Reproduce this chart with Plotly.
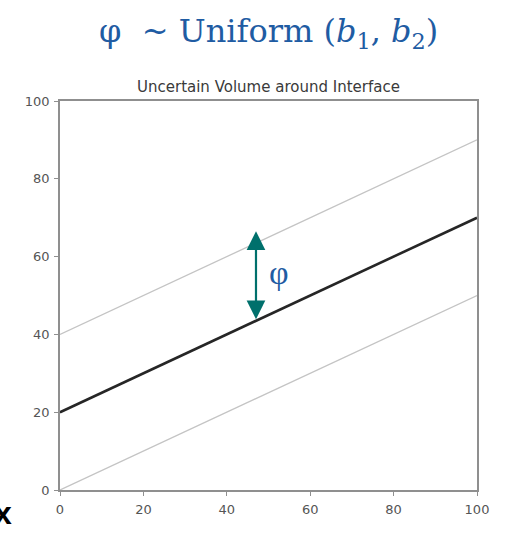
import plotly.graph_objects as go

# data
x_vals = [0, 100]
center_line = [20, 70]
upper_line = [40, 90]
lower_line = [0, 50]
tick_vals = [0, 20, 40, 60, 80, 100]
phi_x = 47
phi_low = 43.5
phi_high = 66.5
phi_label_x = 52.5
phi_label_y = 56

BLUE = "#1f5ca3"
TEAL = "#00706c"

fig = go.Figure()
for yv, col, w in [(upper_line, "#c4c4c4", 1.3), (lower_line, "#c4c4c4", 1.3), (center_line, "#262626", 2.6)]:
    fig.add_trace(go.Scatter(x=x_vals, y=yv, mode="lines",
                             line=dict(color=col, width=w), showlegend=False, hoverinfo="skip"))

axis_common = dict(range=[0, 100], tickvals=tick_vals, showgrid=False, zeroline=False,
                   showline=True, linecolor="#8f8f8f", linewidth=1.5, mirror=True,
                   ticks="outside", ticklen=4, tickcolor="#8f8f8f", tickwidth=1.2,
                   tickfont=dict(family="DejaVu Sans", size=13, color="#555555"))
fig.update_xaxes(ticklabelstandoff=3, **axis_common)
fig.update_yaxes(ticklabelstandoff=2, **axis_common)

# arrow
fig.add_annotation(x=phi_x, y=phi_high, ax=phi_x, ay=phi_low, xref="x", yref="y",
                   axref="x", ayref="y", showarrow=True, arrowhead=2, arrowside="end+start",
                   arrowsize=1.7, arrowwidth=2.2, arrowcolor=TEAL, text="")
fig.add_annotation(x=phi_label_x, y=phi_label_y, xref="x", yref="y", showarrow=False,
                   text="φ", font=dict(family="Liberation Serif", size=34, color=BLUE))

# plot title
fig.add_annotation(x=0.5, y=1.0, xref="paper", yref="paper", yanchor="bottom", yshift=3,
                   showarrow=False, text="Uncertain Volume around Interface",
                   font=dict(family="DejaVu Sans", size=15, color="#3a3a3a"))
# big formula
fig.add_annotation(x=0.5, y=1.0, xref="paper", yref="paper", yanchor="middle", yshift=68,
                   showarrow=False,
                   text="φ  ~ Uniform (<i>b</i><sub>1</sub>, <i>b</i><sub>2</sub>)",
                   font=dict(family="DejaVu Serif", size=32, color=BLUE))
# cut-off x
fig.add_annotation(x=(14 - 60) / 417, y=(490 - 513) / 389, xref="paper", yref="paper",
                   xanchor="right", yanchor="middle", showarrow=False, text="<b>x</b>",
                   font=dict(family="Liberation Sans", size=32, color="#000000"))

fig.update_layout(width=505, height=534, margin=dict(l=60, r=28, t=101, b=44),
                  plot_bgcolor="white", paper_bgcolor="white")
fig.write_html("out.html")
